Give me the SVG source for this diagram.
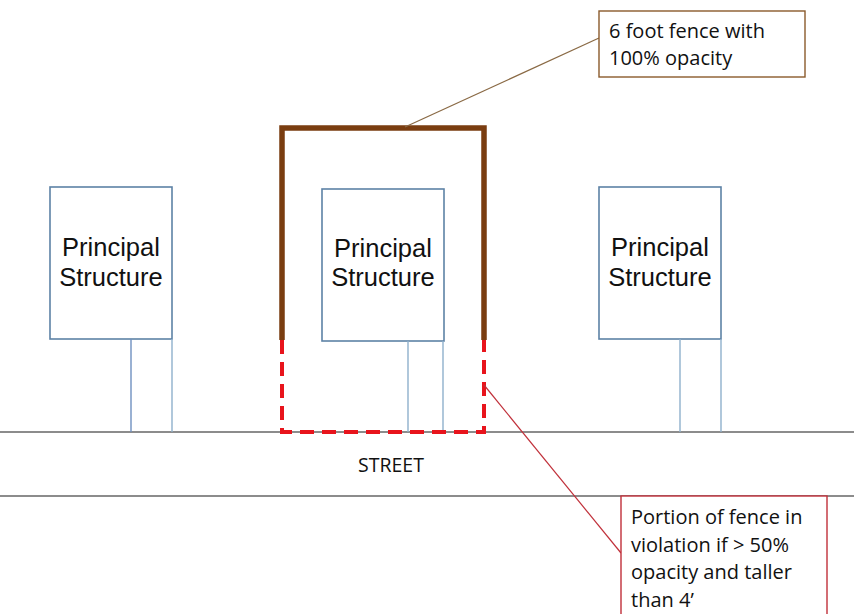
<svg xmlns="http://www.w3.org/2000/svg" width="854" height="614" viewBox="0 0 854 614">
<style>
.struct{fill:#fff;stroke:#5d82a6;stroke-width:1.6}
.drive{stroke:#8fb0cc;stroke-width:1.4}
.drive2{stroke:#6f90c0;stroke-width:1.4}
.lbl{font-family:"Liberation Sans",Arial,sans-serif;font-size:25.5px;fill:#111;text-anchor:middle}
.note{font-family:"Open Sans","Liberation Sans",sans-serif;font-size:20px;fill:#111}
.street{stroke:#666;stroke-width:1.6}
</style>
<rect width="854" height="614" fill="#fff"/>
<g id="street">
<line class="street" x1="0" y1="432" x2="854" y2="432"/>
<line class="street" x1="0" y1="496" x2="854" y2="496"/>
<text x="391" y="472" font-family="'Open Sans','Liberation Sans',sans-serif" font-size="19.5" fill="#111" text-anchor="middle">STREET</text>
</g>
<g id="structure-left">
<rect class="struct" x="50" y="187" width="122" height="152"/>
<line class="drive2" x1="131" y1="339" x2="131" y2="432"/>
<line class="drive" x1="172" y1="339" x2="172" y2="432"/>
<text class="lbl" x="111" y="256">Principal</text>
<text class="lbl" x="111" y="286">Structure</text>
</g>
<g id="structure-center">
<rect class="struct" x="322" y="189" width="122" height="152"/>
<line class="drive" x1="408" y1="341" x2="408" y2="432"/>
<line class="drive" x1="443" y1="341" x2="443" y2="432"/>
<text class="lbl" x="383" y="257">Principal</text>
<text class="lbl" x="383" y="286">Structure</text>
</g>
<g id="structure-right">
<rect class="struct" x="599" y="187" width="122" height="152"/>
<line class="drive" x1="680" y1="339" x2="680" y2="432"/>
<line class="drive" x1="721" y1="339" x2="721" y2="432"/>
<text class="lbl" x="660" y="256">Principal</text>
<text class="lbl" x="660" y="286">Structure</text>
</g>
<g id="fence">
<polyline points="282,340 282,128 484,128 484,340" fill="none" stroke="#7a3d10" stroke-width="5.5" stroke-linejoin="miter"/>
<polyline points="282,340 282,432 484,432 484,340" fill="none" stroke="#e8141c" stroke-width="4" stroke-dasharray="14,8"/>
</g>
<g id="connectors">
<line x1="599" y1="38" x2="405" y2="127" stroke="#8a6a45" stroke-width="1.2"/>
<line x1="484" y1="385" x2="621" y2="553" stroke="#c0303a" stroke-width="1.2"/>
</g>
<g id="note-fence">
<rect x="599" y="11" width="206" height="66" fill="#fff" stroke="#8a5a2b" stroke-width="1.4"/>
<text class="note" x="609" y="38">6 foot fence with</text>
<text class="note" x="609" y="65">100% opacity</text>
</g>
<g id="note-violation">
<rect x="621" y="496" width="206" height="130" fill="#fff" stroke="#c0303a" stroke-width="1.4"/>
<text class="note" x="631" y="524">Portion of fence in</text>
<text class="note" x="631" y="552">violation if &gt; 50%</text>
<text class="note" x="631" y="579">opacity and taller</text>
<text class="note" x="631" y="607">than 4’</text>
</g>
</svg>
